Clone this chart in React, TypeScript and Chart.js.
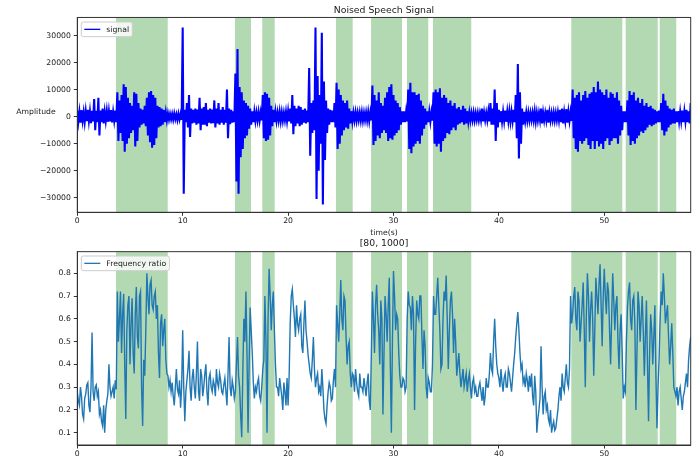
import React, { useEffect, useRef } from "react";
import { Chart, registerables } from "chart.js";

Chart.register(...registerables);

// ---------- data ----------
const SIGNAL_STEP = 0.2; // seconds between stored signal envelope samples
const RATIO_STEP = 0.1; // seconds between stored frequency-ratio samples
const X_MAX = 58.2;
const X_TICKS = [0, 10, 20, 30, 40, 50];
const AMP_TICKS = [-30000, -20000, -10000, 0, 10000, 20000, 30000];
const RATIO_TICKS = [0.1, 0.2, 0.3, 0.4, 0.5, 0.6, 0.7, 0.8];

const SPAN_STARTS = [3.67, 14.96, 17.55, 24.54, 27.87, 31.28, 33.75, 46.87, 52.03, 55.26];
const SPAN_ENDS = [8.58, 16.48, 18.73, 26.13, 30.81, 33.3, 37.38, 51.71, 55.07, 56.83];

// signal envelope, thousands of amplitude units, one value per 0.2 s
const SIGNAL_UPPER_K = [
  2.2, 1.8, 2.4, 1.6, 2.0,
  2.5, 1.9, 2.1, 6.5, 2.2,
  7.0, 2.3, 3.0, 1.8, 2.1,
  2.0, 2.4, 1.7, 2.2, 9.0,
  6.0, 8.0, 12.0, 11.0, 7.0,
  5.0, 4.0, 9.0, 8.5, 5.0,
  3.0, 2.5, 4.0, 7.0, 9.0,
  9.5, 8.0, 7.0, 4.0, 3.5,
  3.0, 2.5, 1.6, 1.2, 1.0,
  1.0, 1.2, 0.9, 1.1, 1.0,
  33.0, 2.5, 5.0, 8.0, 3.0,
  2.5, 3.0, 2.6, 7.0, 3.0,
  3.5, 5.0, 2.5, 3.0, 2.6,
  6.0, 3.0, 5.0, 2.5, 3.5,
  2.5, 10.0, 3.0, 2.5, 2.0,
  16.0, 25.0, 11.0, 9.0, 6.0,
  5.0, 4.0, 3.0, 2.0, 1.8,
  1.5, 1.7, 1.5, 8.0, 9.0,
  8.5, 7.0, 4.0, 2.5, 1.8,
  1.5, 1.8, 1.6, 1.4, 1.8,
  2.0, 3.0, 8.0, 4.0, 3.0,
  4.0, 3.5, 2.5, 3.0, 2.2,
  18.0, 5.0, 6.0, 33.0, 15.0,
  8.0, 31.0, 13.0, 6.0, 3.0,
  2.5, 2.2, 5.0, 12.5, 10.0,
  8.0, 6.0, 5.0, 6.0, 3.0,
  2.0, 1.5, 1.6, 1.4, 1.5,
  1.6, 1.4, 1.5, 1.7, 1.5,
  11.5, 8.0, 6.0, 9.0, 5.0,
  4.0, 7.0, 9.0, 11.0, 12.0,
  8.0, 6.0, 5.0, 3.5, 2.0,
  2.0, 1.8, 10.0, 12.5, 9.0,
  9.0, 8.0, 8.5, 6.0, 4.0,
  3.0, 2.0, 1.8, 1.6, 9.0,
  10.0, 9.0, 10.5, 7.0, 8.0,
  7.0, 5.0, 6.0, 4.0, 5.0,
  3.0, 3.5, 2.5, 4.0, 3.0,
  2.0, 1.5, 1.4, 1.5, 1.3,
  1.4, 1.3, 3.0, 1.5, 1.4,
  2.0, 5.0, 3.0, 10.0, 5.0,
  2.5, 2.0, 1.8, 2.2, 1.9,
  2.0, 1.8, 2.5, 8.0, 19.5,
  9.0, 3.0, 1.8, 1.6, 1.5,
  1.4, 1.5, 2.0, 1.5, 1.4,
  3.0, 1.5, 1.4, 2.5, 1.5,
  1.4, 1.5, 1.4, 1.6, 2.5,
  3.0, 1.6, 2.8, 1.8, 1.7,
  10.0, 7.0, 8.0, 9.0, 6.0,
  8.0, 9.5, 7.0, 8.5, 9.0,
  11.0, 9.0, 13.0, 10.0, 9.0,
  8.0, 10.0, 7.0, 9.0, 8.5,
  7.0, 9.0, 6.0, 4.0, 2.0,
  2.0, 6.0, 9.5, 8.0, 9.0,
  6.0, 7.0, 5.0, 6.5, 4.0,
  5.0, 3.5, 4.0, 3.0, 2.5,
  2.0, 2.2, 5.0, 8.5, 6.0,
  4.0, 3.0, 2.5, 3.0, 2.0,
  2.0, 1.8, 2.2, 1.9, 2.5,
  2.0, 5.0,
];

const SIGNAL_LOWER_K = [
  -1.8, -2.2, -1.5, -2.0, -1.7,
  -1.6, -2.4, -1.8, -5.0, -2.0,
  -7.0, -2.0, -2.5, -1.6, -1.9,
  -1.8, -2.1, -1.5, -2.0, -9.0,
  -6.0, -9.0, -13.0, -10.0, -8.0,
  -6.0, -5.0, -11.0, -9.0, -4.0,
  -3.0, -2.5, -3.5, -7.0, -9.5,
  -11.5, -10.5, -8.0, -4.0, -3.5,
  -3.0, -2.0, -1.4, -1.1, -1.0,
  -1.1, -0.9, -1.2, -1.0, -1.2,
  -28.5, -2.0, -4.0, -7.5, -2.5,
  -2.2, -3.0, -2.5, -5.0, -3.0,
  -3.0, -3.5, -2.2, -2.5, -2.4,
  -4.0, -2.5, -3.0, -2.2, -3.0,
  -2.2, -8.0, -2.8, -2.2, -2.0,
  -24.0, -28.5, -15.0, -12.0, -8.0,
  -7.0, -4.5, -3.0, -2.0, -1.6,
  -1.4, -1.5, -1.4, -8.0, -9.0,
  -8.5, -7.0, -3.5, -2.0, -1.6,
  -1.4, -1.6, -1.5, -1.3, -1.6,
  -1.8, -2.5, -6.5, -3.5, -2.5,
  -3.5, -3.0, -2.2, -2.5, -2.0,
  -14.5, -6.0, -5.0, -30.5, -20.0,
  -10.0, -32.5, -16.0, -6.0, -3.0,
  -2.0, -2.0, -4.0, -12.0, -10.0,
  -7.0, -5.0, -4.0, -4.5, -2.5,
  -1.8, -1.4, -1.5, -1.3, -1.4,
  -1.5, -1.3, -1.4, -1.6, -1.4,
  -10.5, -9.0, -7.0, -8.0, -6.0,
  -5.0, -6.0, -9.0, -8.0, -8.5,
  -7.0, -6.0, -5.0, -3.0, -2.0,
  -2.0, -1.8, -12.0, -13.5, -11.0,
  -10.0, -9.0, -10.0, -7.0, -4.5,
  -3.0, -2.0, -1.8, -1.5, -10.0,
  -11.0, -10.0, -13.0, -9.0, -8.0,
  -6.0, -6.5, -5.0, -4.0, -5.0,
  -3.0, -2.5, -2.0, -3.0, -2.5,
  -1.8, -1.4, -1.3, -1.4, -1.2,
  -1.3, -1.2, -1.8, -1.3, -1.3,
  -1.8, -3.0, -3.0, -9.0, -4.0,
  -2.0, -1.8, -1.6, -1.9, -1.7,
  -1.8, -1.6, -2.0, -8.0, -15.5,
  -10.0, -3.0, -1.6, -1.5, -1.4,
  -1.3, -1.4, -1.8, -1.4, -1.3,
  -2.5, -1.4, -1.3, -2.2, -1.4,
  -1.3, -1.4, -1.3, -1.4, -2.0,
  -2.5, -1.5, -2.2, -1.6, -1.6,
  -8.0, -12.0, -13.0, -9.0, -10.0,
  -9.0, -8.0, -10.5, -12.0, -9.0,
  -12.0, -9.0, -11.0, -10.0, -12.0,
  -9.0, -8.0, -10.5, -9.0, -8.0,
  -8.0, -10.0, -7.0, -5.0, -2.0,
  -2.0, -7.0, -10.5, -9.0, -10.0,
  -8.0, -7.0, -5.5, -6.0, -5.0,
  -4.0, -3.0, -3.5, -3.0, -2.5,
  -2.0, -2.0, -5.0, -7.0, -5.5,
  -4.0, -3.0, -2.5, -2.5, -2.0,
  -1.8, -1.6, -2.0, -1.7, -2.0,
  -2.5, -8.0,
];

// frequency ratio, one value per 0.1 s (one row per second)
const FREQ_RATIO = [
  0.28, 0.24, 0.22, 0.30, 0.26, 0.18, 0.16, 0.25, 0.27, 0.31,
  0.32, 0.22, 0.19, 0.30, 0.54, 0.28, 0.24, 0.30, 0.31, 0.26,
  0.28, 0.18, 0.20, 0.15, 0.13, 0.22, 0.10, 0.20, 0.24, 0.27,
  0.40, 0.30, 0.26, 0.28, 0.30, 0.25, 0.33, 0.29, 0.72, 0.50,
  0.60, 0.72, 0.45, 0.62, 0.71, 0.40, 0.16, 0.55, 0.66, 0.70,
  0.40, 0.58, 0.69, 0.45, 0.36, 0.62, 0.74, 0.52, 0.47, 0.70,
  0.72, 0.30, 0.13, 0.42, 0.35, 0.55, 0.80, 0.70, 0.62, 0.75,
  0.77, 0.66, 0.64, 0.70, 0.72, 0.60, 0.66, 0.45, 0.34, 0.58,
  0.62, 0.48, 0.55, 0.60, 0.42, 0.36, 0.35, 0.30, 0.33, 0.28,
  0.32, 0.26, 0.22, 0.30, 0.38, 0.29, 0.27, 0.33, 0.21, 0.30,
  0.55, 0.30, 0.15, 0.28, 0.33, 0.38, 0.46, 0.30, 0.24, 0.34,
  0.38, 0.30, 0.25, 0.36, 0.50, 0.28, 0.24, 0.38, 0.35, 0.26,
  0.30, 0.36, 0.40, 0.28, 0.22, 0.34, 0.36, 0.30, 0.28, 0.33,
  0.31, 0.26, 0.38, 0.32, 0.30, 0.36, 0.33, 0.28, 0.27, 0.31,
  0.34, 0.28, 0.22, 0.36, 0.52, 0.30, 0.26, 0.33, 0.30, 0.25,
  0.28, 0.40, 0.52, 0.35, 0.30, 0.18, 0.08, 0.35, 0.60, 0.50,
  0.72, 0.45, 0.10, 0.40, 0.65, 0.55, 0.45, 0.32, 0.25, 0.30,
  0.28, 0.32, 0.34, 0.26, 0.24, 0.30, 0.38, 0.42, 0.70, 0.50,
  0.10, 0.60, 0.82, 0.70, 0.55, 0.66, 0.72, 0.55, 0.40, 0.30,
  0.30, 0.26, 0.34, 0.30, 0.26, 0.20, 0.32, 0.28, 0.22, 0.34,
  0.22, 0.35, 0.58, 0.70, 0.73, 0.66, 0.60, 0.52, 0.66, 0.58,
  0.55, 0.60, 0.62, 0.48, 0.45, 0.58, 0.68, 0.55, 0.50, 0.44,
  0.40, 0.36, 0.34, 0.42, 0.52, 0.38, 0.30, 0.34, 0.36, 0.28,
  0.30, 0.26, 0.38, 0.30, 0.20, 0.16, 0.14, 0.22, 0.28, 0.32,
  0.30, 0.24, 0.25, 0.33, 0.38, 0.30, 0.66, 0.58, 0.50, 0.62,
  0.77, 0.60, 0.55, 0.70, 0.68, 0.52, 0.40, 0.48, 0.50, 0.36,
  0.30, 0.36, 0.35, 0.28, 0.38, 0.32, 0.28, 0.26, 0.36, 0.30,
  0.30, 0.28, 0.34, 0.30, 0.26, 0.32, 0.36, 0.24, 0.20, 0.45,
  0.72, 0.60, 0.45, 0.66, 0.75, 0.62, 0.55, 0.40, 0.68, 0.60,
  0.18, 0.45, 0.70, 0.62, 0.50, 0.66, 0.78, 0.40, 0.10, 0.50,
  0.81, 0.70, 0.55, 0.62, 0.60, 0.45, 0.35, 0.30, 0.30, 0.34,
  0.33, 0.28, 0.30, 0.60, 0.72, 0.66, 0.65, 0.55, 0.70, 0.62,
  0.20, 0.50, 0.68, 0.62, 0.60, 0.70, 0.70, 0.52, 0.38, 0.55,
  0.48, 0.30, 0.25, 0.34, 0.32, 0.28, 0.28, 0.40, 0.70, 0.62,
  0.62, 0.70, 0.78, 0.66, 0.55, 0.38, 0.40, 0.60, 0.72, 0.68,
  0.79, 0.60, 0.38, 0.55, 0.68, 0.72, 0.62, 0.45, 0.60, 0.50,
  0.35, 0.40, 0.45, 0.36, 0.30, 0.34, 0.38, 0.30, 0.33, 0.36,
  0.28, 0.33, 0.36, 0.30, 0.25, 0.32, 0.34, 0.28, 0.30, 0.26,
  0.26, 0.30, 0.32, 0.28, 0.24, 0.30, 0.22, 0.26, 0.34, 0.30,
  0.30, 0.36, 0.45, 0.38, 0.36, 0.50, 0.60, 0.48, 0.40, 0.36,
  0.34, 0.30, 0.38, 0.32, 0.28, 0.34, 0.36, 0.30, 0.30, 0.38,
  0.36, 0.32, 0.28, 0.34, 0.40, 0.45, 0.52, 0.58, 0.63, 0.55,
  0.45, 0.38, 0.40, 0.32, 0.34, 0.30, 0.36, 0.33, 0.28, 0.35,
  0.30, 0.36, 0.26, 0.22, 0.35, 0.28, 0.10, 0.16, 0.20, 0.25,
  0.48, 0.30, 0.18, 0.26, 0.28, 0.20, 0.22, 0.16, 0.14, 0.20,
  0.10, 0.13, 0.15, 0.11, 0.12, 0.16, 0.20, 0.26, 0.30, 0.24,
  0.36, 0.30, 0.28, 0.34, 0.40, 0.32, 0.30, 0.38, 0.70, 0.58,
  0.62, 0.70, 0.74, 0.60, 0.55, 0.72, 0.68, 0.50, 0.58, 0.66,
  0.76, 0.55, 0.30, 0.62, 0.80, 0.70, 0.50, 0.64, 0.72, 0.60,
  0.35, 0.55, 0.78, 0.70, 0.62, 0.75, 0.84, 0.66, 0.48, 0.70,
  0.82, 0.70, 0.62, 0.76, 0.72, 0.55, 0.40, 0.60, 0.80, 0.68,
  0.55, 0.66, 0.70, 0.50, 0.38, 0.55, 0.62, 0.45, 0.25, 0.30,
  0.28, 0.50, 0.65, 0.72, 0.76, 0.60, 0.55, 0.68, 0.70, 0.58,
  0.20, 0.45, 0.72, 0.66, 0.50, 0.60, 0.70, 0.55, 0.35, 0.52,
  0.68, 0.40, 0.15, 0.45, 0.62, 0.55, 0.40, 0.52, 0.66, 0.35,
  0.12, 0.30, 0.42, 0.60, 0.72, 0.66, 0.80, 0.70, 0.58, 0.62,
  0.66, 0.52, 0.40, 0.48, 0.58, 0.45, 0.30, 0.28, 0.26, 0.30,
  0.22, 0.28, 0.30, 0.25, 0.20, 0.26, 0.28, 0.32, 0.36, 0.30,
  0.42, 0.48, 0.52,
];

// ---------- styling ----------
const FONT = "'DejaVu Sans', sans-serif";
const TICK_FONT = { family: FONT, size: 7.7 };
const TITLE_FONT = { family: FONT, size: 9.3, weight: "normal" as const };
const TEXT_COLOR = "#1a1a1a";
const AXIS_COLOR = "#333";
const SPAN_COLOR = "rgba(0,128,0,0.3)";

const signalPoints = SIGNAL_UPPER_K.flatMap((u, i) => [
  { x: i * SIGNAL_STEP, y: u * 1000 },
  { x: i * SIGNAL_STEP + SIGNAL_STEP / 2, y: SIGNAL_LOWER_K[i] * 1000 },
]);
const ratioPoints = FREQ_RATIO.map((v, i) => ({ x: i * RATIO_STEP, y: v }));

type Decor = {
  legendLabel: string;
  legendColor: string;
  legendW: number;
  legendTop: number;
  sideText?: { text: string; x: number; y: number };
};

function decorPlugin(id: string, d: Decor) {
  return {
    id,
    beforeDatasetsDraw(chart: any) {
      const { ctx, chartArea: a, scales } = chart;
      const x = scales.x;
      ctx.save();
      ctx.fillStyle = SPAN_COLOR;
      for (let i = 0; i < SPAN_STARTS.length; i++) {
        const x0 = x.getPixelForValue(SPAN_STARTS[i]);
        const x1 = x.getPixelForValue(SPAN_ENDS[i]);
        ctx.fillRect(x0, a.top, x1 - x0, a.bottom - a.top);
      }
      ctx.restore();
    },
    afterDatasetsDraw(chart: any) {
      const { ctx, chartArea: a } = chart;
      ctx.save();
      ctx.strokeStyle = AXIS_COLOR;
      ctx.lineWidth = 1;
      ctx.strokeRect(a.left, a.top, a.right - a.left, a.bottom - a.top);
      const bx = a.left + 4;
      const by = d.legendTop;
      const bw = d.legendW;
      const bh = 14.7;
      ctx.beginPath();
      ctx.roundRect(bx, by, bw, bh, 2);
      ctx.fillStyle = "rgba(255,255,255,0.8)";
      ctx.fill();
      ctx.strokeStyle = "#cccccc";
      ctx.lineWidth = 1;
      ctx.stroke();
      const ly = by + bh / 2;
      ctx.beginPath();
      ctx.moveTo(bx + 3, ly);
      ctx.lineTo(bx + 19, ly);
      ctx.strokeStyle = d.legendColor;
      ctx.lineWidth = 1.3;
      ctx.stroke();
      ctx.fillStyle = TEXT_COLOR;
      ctx.font = `7.7px ${FONT}`;
      ctx.textAlign = "left";
      ctx.textBaseline = "middle";
      ctx.fillText(d.legendLabel, bx + 25, ly + 0.5);
      if (d.sideText) {
        ctx.textAlign = "center";
        ctx.fillText(d.sideText.text, d.sideText.x, d.sideText.y);
      }
      ctx.restore();
    },
  };
}

function axisCommon() {
  return {
    grid: {
      drawOnChartArea: false,
      drawTicks: true,
      tickLength: 3.5,
      color: AXIS_COLOR,
      lineWidth: 1,
    },
    border: { display: true, color: AXIS_COLOR, width: 1 },
  };
}

function xAxis(height: number, withTitle: boolean) {
  return {
    type: "linear",
    min: 0,
    max: X_MAX,
    ...axisCommon(),
    afterBuildTicks: (s: any) => {
      s.ticks = X_TICKS.map((v) => ({ value: v }));
    },
    afterFit: (s: any) => {
      s.height = height;
    },
    ticks: {
      font: TICK_FONT,
      color: TEXT_COLOR,
      padding: 1,
      maxRotation: 0,
      autoSkip: false,
      callback: (v: any) => String(v),
    },
    title: {
      display: withTitle,
      text: "time(s)",
      color: TEXT_COLOR,
      font: TICK_FONT,
      padding: { top: 0, bottom: 2.4 },
    },
  };
}

function yAxis(min: number, max: number, ticks: number[], fmt: (v: number) => string) {
  return {
    type: "linear",
    min,
    max,
    ...axisCommon(),
    afterBuildTicks: (s: any) => {
      s.ticks = ticks.map((v) => ({ value: v }));
    },
    afterFit: (s: any) => {
      s.width = 77.3;
    },
    ticks: {
      font: TICK_FONT,
      color: TEXT_COLOR,
      padding: 3,
      autoSkip: false,
      callback: (v: any) => fmt(Number(v)),
    },
  };
}

function makeTop(canvas: HTMLCanvasElement) {
  return new Chart(canvas, {
    type: "line",
    data: {
      datasets: [
        {
          label: "signal",
          data: signalPoints,
          borderColor: "#0000ff",
          borderWidth: 2.1,
          pointRadius: 0,
          fill: false,
          tension: 0,
        },
      ],
    },
    options: {
      animation: false,
      responsive: false,
      maintainAspectRatio: false,
      devicePixelRatio: 1,
      layout: { padding: { top: 0, right: 9.3, bottom: 0, left: 0 } },
      plugins: {
        legend: { display: false },
        tooltip: { enabled: false },
        title: {
          display: true,
          text: "Noised Speech Signal",
          fullSize: false,
          color: TEXT_COLOR,
          font: TITLE_FONT,
          padding: { top: 5.4, bottom: 0.9 },
        },
      },
      scales: {
        x: xAxis(27.7, true),
        y: yAxis(-35400, 36700, AMP_TICKS, (v) => (v < 0 ? "\u2212" : "") + String(Math.abs(v))),
      },
    },
    plugins: [
      decorPlugin("decorTop", {
        legendLabel: "signal",
        legendColor: "#0000ff",
        legendW: 51,
        legendTop: 22,
        sideText: { text: "Amplitude", x: 36, y: 112 },
      }),
    ],
  } as any);
}

function makeBottom(canvas: HTMLCanvasElement) {
  return new Chart(canvas, {
    type: "line",
    data: {
      datasets: [
        {
          label: "Frequency ratio",
          data: ratioPoints,
          borderColor: "#1f77b4",
          borderWidth: 1.4,
          pointRadius: 0,
          fill: false,
          tension: 0,
        },
      ],
    },
    options: {
      animation: false,
      responsive: false,
      maintainAspectRatio: false,
      devicePixelRatio: 1,
      layout: { padding: { top: 0, right: 9.3, bottom: 0, left: 0 } },
      plugins: {
        legend: { display: false },
        tooltip: { enabled: false },
        title: {
          display: true,
          text: "[80, 1000]",
          fullSize: false,
          color: TEXT_COLOR,
          font: TITLE_FONT,
          padding: { top: 2.4, bottom: 2.1 },
        },
      },
      scales: {
        x: xAxis(19, false),
        y: yAxis(0.046, 0.895, RATIO_TICKS, (v) => v.toFixed(1)),
      },
    },
    plugins: [
      decorPlugin("decorBottom", {
        legendLabel: "Frequency ratio",
        legendColor: "#1f77b4",
        legendW: 88,
        legendTop: 20,
      }),
    ],
  } as any);
}

export default function App() {
  const topRef = useRef<HTMLCanvasElement>(null);
  const botRef = useRef<HTMLCanvasElement>(null);

  useEffect(() => {
    const c1 = makeTop(topRef.current!);
    const c2 = makeBottom(botRef.current!);
    return () => {
      c1.destroy();
      c2.destroy();
    };
  }, []);

  return (
    <div
      style={{
        position: "fixed",
        left: 0,
        top: 0,
        width: 700,
        height: 464,
        background: "#ffffff",
        overflow: "hidden",
      }}
    >
      <canvas
        ref={topRef}
        width={700}
        height={240}
        style={{ position: "absolute", left: 0, top: 0, width: 700, height: 240 }}
      />
      <canvas
        ref={botRef}
        width={700}
        height={228}
        style={{ position: "absolute", left: 0, top: 236, width: 700, height: 228 }}
      />
    </div>
  );
}
